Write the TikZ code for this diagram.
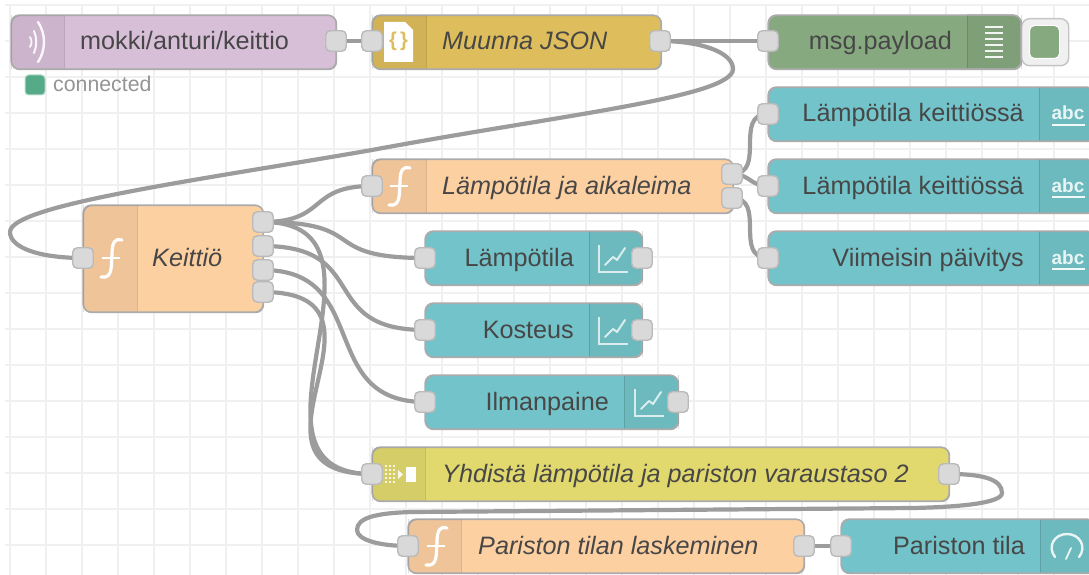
\documentclass[tikz,border=0pt]{standalone}
\usepackage{fontspec}
\setmainfont{Liberation Sans}
\usetikzlibrary{calc}
\definecolor{grid}{HTML}{F0F0F0}
\definecolor{wirec}{HTML}{9C9C9C}
\definecolor{edgec}{HTML}{ABABAB}
\definecolor{portf}{HTML}{D9D9D9}
\definecolor{txt}{HTML}{474747}
\definecolor{cmqtt}{HTML}{D8BFD8}
\definecolor{cjson}{HTML}{DEBD5C}
\definecolor{cdebug}{HTML}{87A980}
\definecolor{cui}{HTML}{73C4CA}
\definecolor{cfunc}{HTML}{FDD0A2}
\definecolor{cjoin}{HTML}{E2D96E}
\definecolor{cstat}{HTML}{55AB88}
\pgfdeclarelayer{wires}
\pgfsetlayers{wires,main}
\tikzset{
  x=1pt,y=-1pt,
  wire/.style={draw=wirec,line width=4.2pt},
  portbox/.style={draw=wirec!70,line width=1.4pt,fill=portf,rounded corners=4.5pt,minimum width=20.5pt,minimum height=20.5pt,inner sep=0pt},
  nodebox/.style={draw=edgec,line width=1.2pt,rounded corners=8pt,inner sep=0pt,anchor=north west},
  ltxt/.style={anchor=base west,text=txt,font=\fontsize{25.2}{28}\selectfont\itshape,inner sep=0pt},
  rtxt/.style={anchor=base east,text=txt,font=\fontsize{25.2}{28}\selectfont,inner sep=0pt},
  icon/.style={draw=white,line width=2pt,line cap=round,line join=round},
}
% name, x0, y0, x1, y1, pane x0, pane x1, colour
\newcommand{\nrbox}[8]{%
  \node[nodebox,fill=#8,minimum width=#4pt-#2pt,minimum height=#5pt-#3pt] (#1) at (#2,#3) {};
  \begin{scope}
    \clip[rounded corners=8pt] (#2,#3) rectangle (#4,#5);
    \fill[black,opacity=.055] (#6,#3) rectangle (#7,#5);
  \end{scope}
  \draw[black,opacity=.13,line width=1pt] (#6,#3) -- (#6,#5) (#7,#3) -- (#7,#5);
  \draw[edgec,line width=1.2pt,rounded corners=8pt] (#2,#3) rectangle (#4,#5);
}
\newcommand{\fglyph}[2]{% f icon centred at x,y
  \draw[icon,line width=3.2pt] (#1-9,#2+19) .. controls (#1+3,#2+21) and (#1+1,#2+8) .. (#1+2,#2-4)
     .. controls (#1+2,#2-17) and (#1+6,#2-20) .. (#1+12,#2-18);
  \draw[icon,line width=2.4pt,line cap=butt] (#1-8,#2) -- (#1+10,#2);
}
\newcommand{\charticon}[2]{%
  \draw[white,opacity=.75,line width=1.4pt] (#1-15,#2-13) -- (#1-15,#2+14) -- (#1+14,#2+14);
  \draw[icon,opacity=.75,line width=2pt] (#1-9,#2+7) -- (#1-1,#2-1) -- (#1+3,#2+2) -- (#1+11,#2-10);
}
\newcommand{\abcicon}[2]{%
  \node[inner sep=0pt,text=white,opacity=.85,font=\fontsize{19}{20}\selectfont\bfseries,anchor=base] at (#1,#2+6) {abc};
  \draw[white,opacity=.9,line width=2pt] (#1-16.5,#2+11) -- (#1+16.5,#2+11);
}
\begin{document}
\begin{tikzpicture}
\useasboundingbox (0,0) rectangle (1089,575);
\begin{pgfonlayer}{wires}
  \foreach \gx in {0,...,29} \draw[grid,line width=1.2pt] ({10+36*\gx},5) -- ({10+36*\gx},575);
  \foreach \gy in {0,...,15} \draw[grid,line width=1.2pt] (5,{5+36*\gy}) -- (1089,{5+36*\gy});
\end{pgfonlayer}

% nodes
\nrbox{mqtt}{11}{15}{336}{69}{11}{64}{cmqtt}
\nrbox{json}{372}{15}{661}{69}{372}{426}{cjson}
\nrbox{dbg}{768}{15}{1021}{69}{967}{1021}{cdebug}
\nrbox{txta}{768}{87}{1095}{141}{1039}{1095}{cui}
\nrbox{txtb}{768}{159}{1095}{213}{1039}{1095}{cui}
\nrbox{txtc}{768}{231}{1095}{285}{1039}{1095}{cui}
\nrbox{fts}{372}{159}{733}{213}{372}{426}{cfunc}
\nrbox{fkei}{83}{205}{263}{312}{83}{137}{cfunc}
\nrbox{cha}{425}{231}{642}{285}{589}{642}{cui}
\nrbox{chb}{425}{303}{642}{357}{589}{642}{cui}
\nrbox{chc}{425}{375}{678}{429}{624}{678}{cui}
\nrbox{join}{372}{447}{949}{501}{372}{425}{cjoin}
\nrbox{fbat}{408}{519}{804}{573}{408}{461}{cfunc}
\nrbox{gauge}{841}{519}{1095}{573}{1040}{1095}{cui}

% debug button
\node[draw=edgec!70,fill=grid,line width=1.4pt,rounded corners=8pt,minimum width=47pt,minimum height=47pt,inner sep=0pt,anchor=north west] (dbgbtn) at (1021,18) {};
\node[fill=cdebug,draw=white,line width=1pt,rounded corners=5pt,minimum width=30pt,minimum height=33pt,inner sep=0pt,anchor=north west] (dbginner) at (1029,25) {};
\draw[edgec,line width=1.2pt,rounded corners=8pt] (967,15) -- (1021,15) -- (1021,69) -- (967,69);

% labels
\node[rtxt,anchor=base west,font=\fontsize{25.2}{28}\selectfont] (lmqtt) at (80,50) {mokki/anturi/keittio};
\node[ltxt] (ljson) at (442,50) {Muunna JSON};
\node[rtxt] (ldbg) at (952,50) {msg.payload};
\node[rtxt] (ltxta) at (1024,122) {Lämpötila keittiössä};
\node[rtxt] (ltxtb) at (1024,194) {Lämpötila keittiössä};
\node[rtxt] (ltxtc) at (1024,266) {Viimeisin päivitys};
\node[ltxt] (lfts) at (442,194) {Lämpötila ja aikaleima};
\node[ltxt] (lfkei) at (152,266) {Keittiö};
\node[rtxt] (lcha) at (574,266) {Lämpötila};
\node[rtxt] (lchb) at (574,338) {Kosteus};
\node[rtxt] (lchc) at (609,410) {Ilmanpaine};
\node[ltxt] (ljoin) at (442,482) {Yhdistä lämpötila ja pariston varaustaso 2};
\node[ltxt] (lfbat) at (478,554) {Pariston tilan laskeminen};
\node[rtxt] (lgauge) at (1025,554) {Pariston tila};

% status
\node[fill=cstat,draw=cstat!40,line width=1pt,rounded corners=3.5pt,minimum width=20pt,minimum height=20pt,inner sep=0pt] (stat) at (35,85) {};
\node[anchor=base west,inner sep=0pt,text=black!42,font=\fontsize{21.3}{24}\selectfont] (lstat) at (53,92) {connected};

% icons
\draw[icon,opacity=.9,line width=1.8pt] (30,37) .. controls (32,40) and (32,44) .. (30,47);
\draw[icon,opacity=.9,line width=2pt] (34,31) .. controls (37,38) and (37,46) .. (34,53);
\draw[icon,opacity=.9,line width=2.4pt] (38,22) .. controls (46,34) and (46,50) .. (38,62);
\fill[white] (384,22) -- (405,22) -- (413,30) -- (413,62) -- (384,62) -- cycle;
\node[inner sep=0pt,text=cjson,font=\fontsize{20}{22}\selectfont\bfseries] (jsonicon) at (398.5,41) {\{\kern3pt\}};
\foreach \by in {27,33,39,45,51,57} \draw[white,line width=2pt,opacity=.9] (985,\by) -- (1003,\by);
\abcicon{1068}{114}
\abcicon{1068}{186}
\abcicon{1068}{258}
\fglyph{398}{186}
\fglyph{110}{258}
\fglyph{435}{546}
\charticon{614}{258}
\charticon{614}{330}
\charticon{650}{402}
% join icon
\fill[white] (406,467) rectangle (416,482);
\foreach \jx in {385,389,393} \foreach \jy in {465,469,473,477,481}
  \fill[white,opacity=.8] (\jx,\jy) rectangle +(2.4,2.4);
\fill[white,opacity=.9] (398,470) -- (403,474.5) -- (398,479) -- cycle;
% gauge icon
\draw[icon,opacity=.85,line width=2.4pt] (1055,557) .. controls (1047,547) and (1054,534) .. (1067,534)
   .. controls (1080,534) and (1087,547) .. (1079,557);
\draw[icon,opacity=.85,line width=1.8pt] (1066,559) -- (1071,548);

% ports
\node[portbox] (pmqtt) at (336,41) {};
\node[portbox] (ijson) at (372,41) {};
\node[portbox] (ojson) at (660,41) {};
\node[portbox] (idbg) at (768,41) {};
\node[portbox] (itxta) at (768,114) {};
\node[portbox] (itxtb) at (768,186) {};
\node[portbox] (itxtc) at (768,258) {};
\node[portbox] (ifts) at (372,186) {};
\node[portbox] (oftsa) at (732,174) {};
\node[portbox] (oftsb) at (732,198) {};
\node[portbox] (ikei) at (83,258) {};
\node[portbox] (okeia) at (263,222) {};
\node[portbox] (okeib) at (263,246) {};
\node[portbox] (okeic) at (263,270) {};
\node[portbox] (okeid) at (263,292) {};
\node[portbox] (icha) at (425,258) {};
\node[portbox] (ocha) at (642,258) {};
\node[portbox] (ichb) at (425,330) {};
\node[portbox] (ochb) at (642,330) {};
\node[portbox] (ichc) at (425,402) {};
\node[portbox] (ochc) at (678,402) {};
\node[portbox] (ijoin) at (372,474) {};
\node[portbox] (ojoin) at (949,474) {};
\node[portbox] (ifbat) at (408,546) {};
\node[portbox] (ofbat) at (804,546) {};
\node[portbox] (igauge) at (841,546) {};

% wires
\begin{pgfonlayer}{wires}
\coordinate (ja) at (733,69);
\coordinate (jb) at (372,150);
\coordinate (jc) at (10,232);
\coordinate (ka) at (1002,493);
\coordinate (kb) at (913,508);
\coordinate (kc) at (412,512);
\coordinate (kd) at (357,530);
\draw[wire] (pmqtt.center) -- (ijson.center);
\draw[wire] (ojson.center) -- (idbg.center);
\draw[wire] (ojson.center) .. controls (700,41) and (733,52) .. (ja)
   .. controls (733,97) and (560,115) .. (jb)
   .. controls (200,180) and (10,205) .. (jc)
   .. controls (10,248) and (40,258) .. (ikei.center);
\draw[wire] (okeia.center) .. controls +(65,0) and +(-65,0) .. (ifts.center);
\draw[wire] (okeia.center) .. controls +(109,0) and +(-109,0) .. (icha.center);
\draw[wire] (okeia.center) .. controls +(150,0) and +(-150,0) .. (ijoin.center);
\draw[wire] (okeib.center) .. controls +(109,0) and +(-109,0) .. (ichb.center);
\draw[wire] (okeic.center) .. controls +(109,0) and +(-109,0) .. (ichc.center);
\draw[wire] (okeid.center) .. controls +(150,0) and +(-150,0) .. (ijoin.center);
\draw[wire] (oftsa.center) .. controls +(35,0) and +(-35,0) .. (itxta.center);
\draw[wire] (oftsa.center) .. controls +(18,0) and +(-18,0) .. (itxtb.center);
\draw[wire] (oftsb.center) .. controls +(35,0) and +(-35,0) .. (itxtc.center);
\draw[wire] (ojoin.center) .. controls (985,474) and (1002,480) .. (ka)
   .. controls (1002,503) and (960,507) .. (kb) -- (kc)
   .. controls (375,513) and (357,518) .. (kd)
   .. controls (357,540) and (380,546) .. (ifbat.center);
\draw[wire] (ofbat.center) -- (igauge.center);
\end{pgfonlayer}
\end{tikzpicture}
\end{document}
